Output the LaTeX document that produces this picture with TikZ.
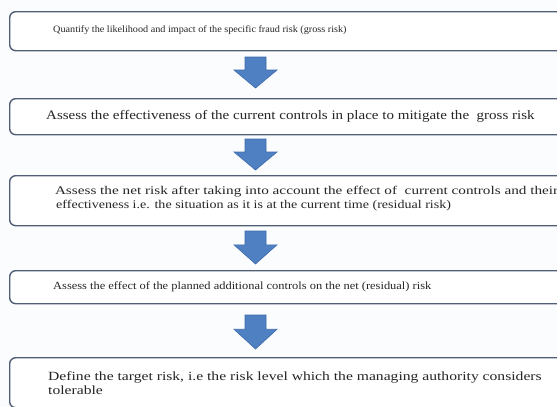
\documentclass[tikz,border=0pt]{standalone}
\usepackage{fontspec}
\setmainfont{Liberation Serif}
\definecolor{bgc}{HTML}{FBFCFE}
\definecolor{boxline}{HTML}{515F76}
\definecolor{arrfill}{HTML}{4F80C2}
\definecolor{arrline}{HTML}{3C6AAA}
\tikzset{
  stepbox/.style={draw=boxline, line width=1.4pt, rounded corners=6pt, fill=white,
    anchor=north west, minimum width=570pt, inner xsep=0pt, inner ysep=0pt, text width=570pt, align=left},
  steptext/.style={anchor=west, inner sep=0pt, align=left, text=black!85},
  blockarrow/.style={fill=arrfill, draw=arrline, line width=0.6pt, line join=miter}
}
\newcommand{\stretchtext}[2]{\scalebox{#1}[1]{#2}}
\begin{document}
\begin{tikzpicture}[x=1pt,y=-1pt]
\fill[bgc] (0,0) rectangle (557,407);
\useasboundingbox (0,0) rectangle (557,407);
\clip (0,0) rectangle (557,407);
% boxes
\node[stepbox, minimum height=39pt] (b1) at (9,11) {};
\node[stepbox, minimum height=36pt] (b2) at (9,98) {};
\node[stepbox, minimum height=50pt] (b3) at (9,175) {};
\node[stepbox, minimum height=33pt] (b4) at (9,270) {};
\node[stepbox, minimum height=50pt] (b5) at (9,357) {};
% texts
\node[steptext, font=\fontsize{9.7}{11}\selectfont] (t1) at (53,30)
  {\stretchtext{1.05}{Quantify the likelihood and impact of the specific fraud risk (gross risk)}};
\node[steptext, font=\fontsize{13}{14}\selectfont] (t2) at (46,116)
  {\stretchtext{1.155}{Assess the effectiveness of the current controls in place to mitigate the \ gross risk}};
\node[steptext, font=\fontsize{11.8}{13.5}\selectfont] (t3) at (51,199)
  {\begin{tabular}{@{}l@{}}\stretchtext{1.29}{\ Assess the net risk after taking into account the effect of \ current controls and their}\\[0.5pt]
   \hspace*{5pt}\stretchtext{1.19}{effectiveness i.e. the situation as it is at the current time (residual risk)}\end{tabular}};
\node[steptext, font=\fontsize{11}{12}\selectfont] (t4) at (53,287)
  {\stretchtext{1.13}{Assess the effect of the planned additional controls on the net (residual) risk}};
\node[steptext, font=\fontsize{12.5}{14}\selectfont] (t5) at (48,385)
  {\stretchtext{1.25}{\begin{tabular}{@{}l@{}}Define the target risk, i.e the risk level which the managing authority considers\\[0pt]
   tolerable\end{tabular}}};
% block arrows
\foreach \n/\top/\bot in {a1/57/88, a2/139/170, a3/231/264, a4/315/349}{
  \coordinate (\n) at (255,\top);
  \draw[blockarrow] (245,\top) -- (266,\top) -- (266,{\top+0.42*(\bot-\top)}) -- (277,{\top+0.42*(\bot-\top)})
     -- (255.5,\bot) -- (234,{\top+0.42*(\bot-\top)}) -- (245,{\top+0.42*(\bot-\top)}) -- cycle;
}
\end{tikzpicture}
\end{document}
